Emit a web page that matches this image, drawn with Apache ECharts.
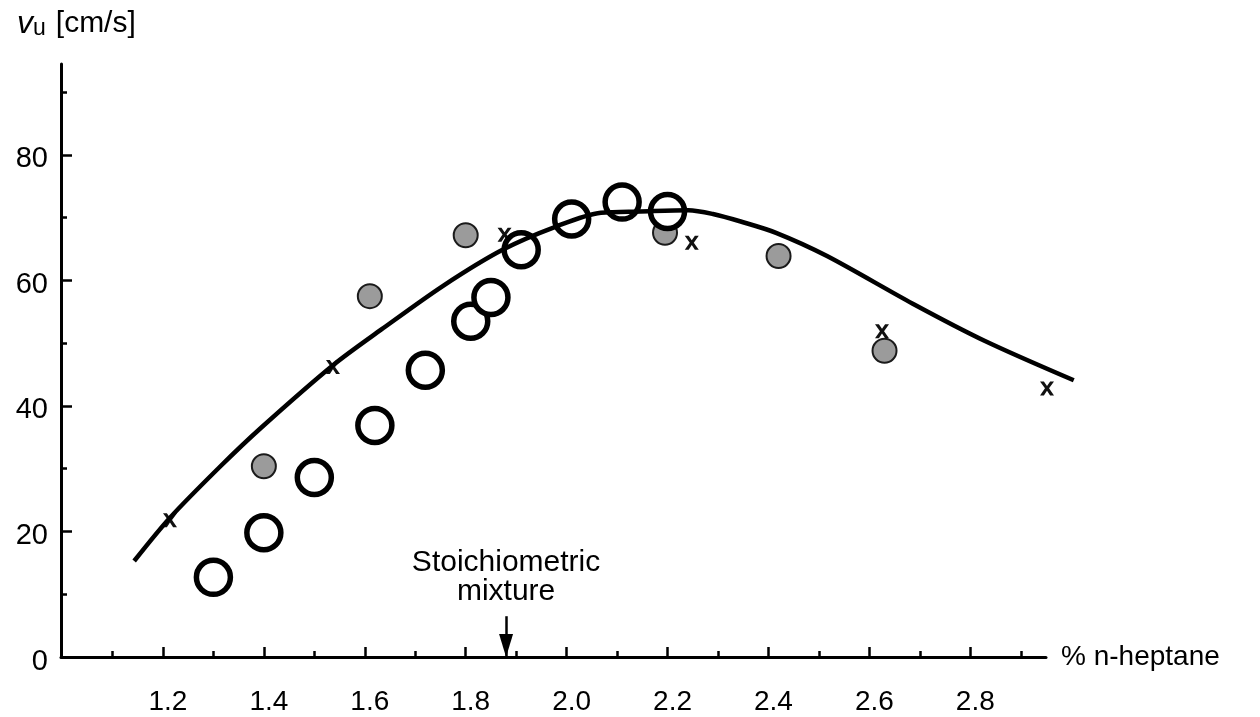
<!DOCTYPE html>
<html>
<head>
<meta charset="utf-8">
<script src="https://cdn.jsdelivr.net/npm/echarts@6/dist/echarts.min.js"></script>
<style>
  html, body { margin: 0; padding: 0; background: #fff; }
  #chart { width: 1260px; height: 717px; }
</style>
</head>
<body>
<div id="chart"></div>
<script>
// open circles (large, white)
const openX = [1.30, 1.40, 1.50, 1.62, 1.72, 1.81, 1.85, 1.91, 2.01, 2.11, 2.20]
const openY = [12.7, 19.8, 28.6, 36.9, 45.7, 53.5, 57.3, 64.9, 69.8, 72.5, 71.0]
// grey filled circles
const greyX = [1.40, 1.61, 1.80, 2.195, 2.42, 2.63]
const greyY = [30.4, 57.5, 67.2, 67.6, 63.9, 48.8]
// x markers
const crossX = [1.214, 1.537, 1.877, 2.248, 2.625, 2.952]
const crossY = [21.8, 46.2, 67.3, 66.0, 51.9, 42.8]
// fitted curve
const curveX = [1.143, 1.214, 1.314, 1.394, 1.537, 1.633, 1.756, 1.873, 1.979, 2.068, 2.146, 2.241, 2.29, 2.345, 2.415, 2.516, 2.686, 2.828, 3.005]
const curveY = [15.3, 22.2, 30.4, 36.5, 46.5, 52.2, 59.2, 64.9, 68.6, 70.8, 71.0, 71.2, 70.6, 69.4, 67.6, 63.9, 56.3, 50.4, 44.1]

const xMajor = [1.2, 1.4, 1.6, 1.8, 2.0, 2.2, 2.4, 2.6, 2.8]
const xMinor = [1.1, 1.3, 1.5, 1.7, 1.9, 2.1, 2.3, 2.5, 2.7, 2.9]
const yMajor = [0, 20, 40, 60, 80]
const yMinor = [10, 30, 50, 70, 90]

const stoichX = 1.88
const arrowTop = 6.5

const FONT = '"Liberation Sans", Arial, Helvetica, sans-serif'
const zip = (xs, ys) => xs.map((x, i) => [x, ys[i]])

const chart = echarts.init(document.getElementById('chart'))

// the plot area, and a wider twin of it so the curve can run past the axis end
const X_MIN = 0.998
const X_MAX = 2.95
const GRID = { left: 61, right: 214, top: 64, bottom: 60 }
const EXTRA = 40
const plotW = 1260 - GRID.left - GRID.right
const X_MAX_WIDE = X_MIN + (X_MAX - X_MIN) * (plotW + EXTRA) / plotW

const xBase = {
  type: 'value',
  min: X_MIN,
  max: X_MAX,
  gridIndex: 0,
  position: 'bottom',
  splitLine: { show: false }
}
const yBase = {
  type: 'value',
  min: 0,
  max: 94.5,
  gridIndex: 0,
  position: 'left',
  splitLine: { show: false }
}

const option = {
  backgroundColor: '#fff',
  animation: false,
  title: {
    text: '{v|v}{u|u}  {b|[cm/s]}',
    left: 12,
    top: 3,
    textStyle: {
      fontFamily: FONT,
      fontWeight: 'normal',
      color: '#000',
      rich: {
        v: { fontFamily: FONT, fontStyle: 'italic', fontSize: 32, color: '#000', fontWeight: 'normal' },
        u: { fontFamily: FONT, fontSize: 23, color: '#000', verticalAlign: 'bottom', fontWeight: 'normal' },
        b: { fontFamily: FONT, fontSize: 30, color: '#000', fontWeight: 'normal' }
      }
    }
  },
  grid: [
    GRID,
    { left: GRID.left, right: GRID.right - EXTRA, top: GRID.top, bottom: GRID.bottom }
  ],
  xAxis: [
    {
      ...xBase,
      name: '% n-heptane',
      nameLocation: 'end',
      nameGap: 15,
      nameTextStyle: { fontFamily: FONT, fontSize: 28, color: '#000' },
      axisLine: { onZero: false, lineStyle: { color: '#000', width: 3 } },
      axisTick: { inside: true, length: 10, customValues: xMajor, lineStyle: { color: '#000', width: 2.5 } },
      axisLabel: {
        customValues: xMajor,
        margin: 31,
        padding: [0, 0, 0, 10],
        fontFamily: FONT,
        fontSize: 28,
        color: '#000',
        formatter: v => v.toFixed(1)
      }
    },
    {
      ...xBase,
      axisLine: { show: false, onZero: false },
      axisTick: { show: true, inside: true, length: 6, customValues: xMinor, lineStyle: { color: '#000', width: 2.5 } },
      axisLabel: { show: false }
    },
    { type: 'value', gridIndex: 1, min: X_MIN, max: X_MAX_WIDE, show: false }
  ],
  yAxis: [
    {
      ...yBase,
      axisLine: { show: true, onZero: false, lineStyle: { color: '#000', width: 3 } },
      axisTick: { show: true, inside: true, length: 11, customValues: yMajor, lineStyle: { color: '#000', width: 2.5 } },
      axisLabel: {
        customValues: yMajor,
        margin: 13,
        verticalAlign: 'top',
        lineHeight: 9,
        fontFamily: FONT,
        fontSize: 29,
        color: '#000'
      }
    },
    {
      ...yBase,
      axisLine: { show: false, onZero: false },
      axisTick: { show: true, inside: true, length: 6, customValues: yMinor, lineStyle: { color: '#000', width: 2.5 } },
      axisLabel: { show: false }
    },
    { type: 'value', gridIndex: 1, min: 0, max: 94.5, show: false }
  ],
  series: [
    {
      name: 'curve',
      type: 'line',
      xAxisIndex: 2,
      yAxisIndex: 2,
      data: zip(curveX, curveY),
      smooth: 0.3,
      symbol: 'none',
      clip: false,
      lineStyle: { color: '#000', width: 4.5 }
    },
    {
      name: 'grey',
      type: 'scatter',
      data: zip(greyX, greyY),
      symbol: 'circle',
      symbolSize: 24,
      itemStyle: { color: '#9b9b9b', borderColor: '#1a1a1a', borderWidth: 2, opacity: 1 },
      markLine: {
        silent: true,
        symbol: ['none', 'triangle'],
        lineStyle: { color: '#000', width: 2.5, type: 'solid' },
        label: {
          show: true,
          position: 'start',
          distance: 10,
          formatter: 'Stoichiometric\nmixture',
          fontFamily: FONT,
          fontSize: 30,
          lineHeight: 29,
          color: '#000'
        },
        emphasis: { disabled: true },
        data: [[
          { coord: [stoichX, arrowTop] },
          { coord: [stoichX, 0], symbolSize: [14, 23], symbolOffset: [0, 11.5], itemStyle: { color: '#000' } }
        ]]
      }
    },
    {
      name: 'cross',
      type: 'scatter',
      data: zip(crossX, crossY),
      clip: false,
      symbol: 'path://M0,0H3.6L6.5,4.2L9.4,0H13L8.4,6.4L13,13H9.4L6.5,8.6L3.6,13H0L4.6,6.4Z',
      symbolSize: [14, 14],
      itemStyle: { color: '#111', opacity: 1 }
    },
    {
      name: 'open',
      type: 'scatter',
      data: zip(openX, openY),
      symbol: 'circle',
      symbolSize: 34,
      itemStyle: { color: '#fff', borderColor: '#000', borderWidth: 5.5, opacity: 1 }
    }
  ]
}

chart.setOption(option)
</script>
</body>
</html>
